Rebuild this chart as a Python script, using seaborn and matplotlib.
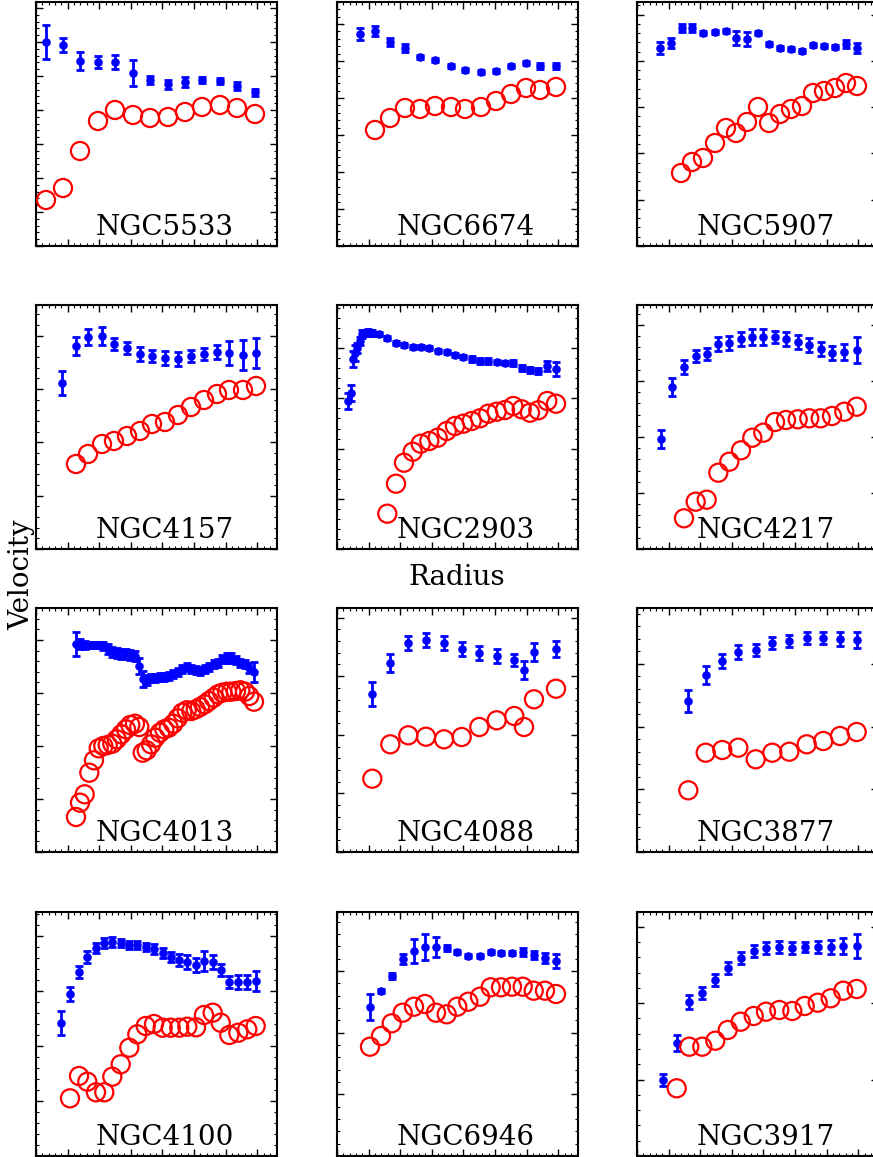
import matplotlib
matplotlib.use("Agg")
import matplotlib.pyplot as plt
from matplotlib.ticker import MultipleLocator, AutoMinorLocator
import seaborn as sns
import numpy as np

# ---------------- data (radius / velocity in arbitrary plot units) ----------------
names = ["NGC5533", "NGC6674", "NGC5907",
         "NGC4157", "NGC2903", "NGC4217",
         "NGC4013", "NGC4088", "NGC3877",
         "NGC4100", "NGC6946", "NGC3917"]

# NGC5533
r_5533 = [10, 27, 44, 62, 79, 97, 114, 132, 149, 166, 184, 201, 219]
vb_5533 = [204, 201, 185, 184, 184, 173, 166, 162, 164, 166, 165, 160, 154]
eb_5533 = [17, 7, 9, 6, 7, 13, 4, 4.5, 5, 3, 3, 4, 3.5]
rr_5533 = [10, 27, 44, 62, 79, 97, 114, 132, 149, 166, 184, 201, 219]
vr_5533 = [46, 58, 95, 125, 136, 131, 128, 129, 134, 139, 141, 138, 132]

# NGC6674
r_6674 = [23, 38, 53, 68, 83, 98, 114, 128, 144, 159, 174, 189, 203, 219]
vb_6674 = [212, 215, 204, 198, 189, 186, 180, 176, 174, 175, 180, 183, 180, 180]
eb_6674 = [6, 5, 4, 4, 2, 2, 2, 2, 2, 2, 2, 2, 3, 3]
rr_6674 = [38, 53, 68, 83, 98, 114, 128, 144, 159, 174, 189, 203, 219]
vr_6674 = [116, 128, 138, 137, 140, 139, 137, 139, 145, 152, 158, 156, 159]

# NGC5907
r_5907 = [23, 34, 45, 55, 66, 78, 89, 99, 110, 121, 132, 143, 154, 165, 176, 187, 198, 209, 220]
vb_5907 = [198, 203, 218, 218, 213, 214, 215, 208, 207, 213, 202, 198, 197, 195, 201, 200, 199, 202, 198]
eb_5907 = [6, 5, 4, 4, 2, 2, 2, 7, 7, 2, 2, 2, 2, 2, 2, 2, 2, 4, 5]
rr_5907 = [44, 55, 66, 78, 89, 99, 110, 121, 132, 143, 154, 165, 176, 187, 198, 209, 220]
vr_5907 = [73, 84, 88, 103, 118, 113, 124, 139, 123, 132, 137, 140, 153, 155, 158, 163, 160]

# NGC4157
r_4157 = [26, 40, 52, 66, 78, 91, 104, 116, 129, 142, 155, 168, 181, 193, 207, 220]
vb_4157 = [166, 203, 212, 213, 205, 201, 195, 193, 191, 190, 193, 195, 197, 196, 194, 196]
eb_4157 = [12, 9, 8, 9, 6, 6, 7, 6, 7, 7, 6, 6, 7, 12, 15, 15]
rr_4157 = [40, 52, 66, 78, 91, 104, 116, 129, 142, 155, 168, 181, 193, 207, 220]
vr_4157 = [85, 95, 105, 108, 113, 118, 125, 127, 134, 142, 149, 155, 159, 159, 163]

# NGC2903
r_2903 = [11.3, 13.7, 15.7, 18, 20.3, 23, 25.3, 28, 30.7, 33, 35.3, 42.3, 50.3, 59, 67, 75.7,
          83.7, 92.3, 100.7, 109.7, 118, 126.3, 134.7, 143, 151.3, 159.7, 168, 176.3, 184.7,
          193, 201.3, 210.3, 219]
vb_2903 = [148, 156.3, 189.7, 196.3, 201.3, 208, 215.3, 216.3, 217, 216.3, 216.3, 215.3, 210.7,
           206.3, 204, 202, 202, 200.7, 198, 197, 194, 192, 189.7, 188, 188, 187, 186.3, 185.7,
           181.3, 178.7, 178, 183, 179.7]
eb_2903 = [8, 8, 8, 8, 5, 4, 4, 3, 3, 3, 3, 2, 2, 2, 2, 2, 2, 2, 2, 2, 2, 2, 3, 3, 3, 2, 2, 3,
           3, 3, 3, 5, 7]
rr_2903 = [50.3, 59, 67, 75.7, 83.7, 92.3, 100.7, 109.7, 118, 126.3, 134.7, 143, 151.3, 159.7,
           168, 176.3, 184.7, 193, 201.3, 210.3, 219]
vr_2903 = [35.3, 65.3, 86.3, 97.3, 105.3, 108, 111.3, 118, 123, 125.3, 128, 130.7, 135.3, 137.3,
           139, 143, 139.7, 136.3, 138.7, 148, 145.3]

# NGC4217
r_4217 = [23.7, 35.3, 47, 58.7, 69.7, 81.3, 92.3, 104, 115.3, 126.3, 138, 149, 160.7, 172.3,
          183.7, 195, 207.3, 219.7]
vb_4217 = [109.7, 162.3, 182, 193, 194.7, 204.7, 205.7, 209.7, 212, 212.3, 212.3, 210.3, 207.3,
           203.7, 199.7, 196.3, 197, 198.7]
eb_4217 = [9, 9, 7, 6, 6, 7, 7, 7, 8, 8, 6, 7, 7, 7, 7, 7, 8, 13]
rr_4217 = [47, 58.7, 69.7, 81.3, 92.3, 104, 115.3, 126.3, 138, 149, 160.7, 172.3, 183.7, 195,
           207.3, 219.7]
vr_4217 = [30.7, 47.3, 49.3, 76.3, 87.3, 98.7, 111.3, 116.3, 127, 129, 129.7, 130.7, 130.7, 133,
           137.3, 142.3]

# NGC4013
r_4013 = [40, 44, 48.7, 53.3, 58, 62.7, 67.3, 71.7, 76.3, 80.7, 85.3, 90, 94.3, 99, 103.3, 106.7,
          110.7, 115, 119.3, 124, 128.3, 132.7, 137.3, 141.7, 146.3, 150.7, 155.3, 159.7, 164,
          168.7, 173, 177.7, 182, 186.3, 191, 195.3, 200, 204.3, 209, 213.3, 218]
vb_4013 = [208.3, 207.7, 206.7, 206.7, 206.7, 206.7, 206, 202.7, 200.3, 199.3, 198.3, 197.7, 197,
           196, 186, 172.7, 171.7, 173.7, 174.3, 175, 175, 176, 177.7, 180.3, 182.7, 185, 182.7,
           181.7, 181, 182.7, 185, 187.7, 189.3, 192.7, 194.3, 193.7, 191.7, 189.3, 187.7, 184.3,
           180.3]
eb_4013 = [12, 5, 4, 3, 3, 3, 4, 5, 5, 5, 5, 5, 5, 5, 8, 8, 5, 4, 4, 4, 4, 4, 4, 4, 4, 4, 4, 4,
           4, 4, 4, 4, 4, 4, 5, 5, 4, 4, 4, 5, 10]
rr_4013 = r_4013
vr_4013 = [35, 49.3, 57.7, 79.3, 91.7, 103.7, 106, 107, 108.3, 112.7, 117.7, 122.7, 127, 128.3,
           125, 99.3, 101.7, 107.7, 114.3, 119.3, 122.7, 124.3, 128.3, 133.7, 139.3, 141.7, 141,
           142.7, 145, 147.7, 151, 154.3, 157.7, 159.3, 160.3, 160.3, 161, 161.7, 160.3, 156, 150.3]

# NGC4088
r_4088 = [35.3, 53.3, 71.3, 89, 107, 124.7, 142.3, 159.7, 177.3, 187, 197, 219]
vb_4088 = [158.3, 188.7, 208.7, 212, 209.3, 202.7, 199.3, 196, 192, 182, 200, 203.3]
eb_4088 = [12, 9, 7, 7, 7, 7, 7, 7, 6, 9, 9, 8]
rr_4088 = r_4088
vr_4088 = [73.3, 107.7, 116.7, 115.3, 112.7, 115, 125, 131.7, 136, 125, 152.7, 163.3]

# NGC3877
r_3877 = [51.3, 68.7, 85.3, 101.3, 118.7, 135.3, 152.3, 169.7, 186.3, 203, 219.7]
vb_3877 = [151, 177, 191, 200, 201.7, 208.7, 211, 213.7, 213.7, 212.7, 211.7]
eb_3877 = [11, 9, 7, 7, 6, 6, 6, 6, 6, 7, 8]
rr_3877 = r_3877
vr_3877 = [61.7, 99.3, 102, 104.3, 92.7, 99.3, 100.3, 107.7, 111, 116, 120]

# NGC4100
r_4100 = [25, 34, 43, 51.3, 60, 68.3, 76.3, 84.7, 93.3, 101.3, 109.7, 118, 126.7, 134.7, 143.3,
          151.3, 160, 168, 176.7, 184.7, 193.3, 202.3, 211.3, 219.7]
vb_4100 = [132.7, 161.7, 184.3, 199.3, 207.7, 212.7, 214.3, 212.7, 211, 211, 209.3, 206.7, 202.7,
           199.3, 196, 194.3, 191, 195.3, 194.3, 186, 174.3, 174.3, 174.3, 175]
eb_4100 = [12, 7, 6, 6, 5, 5, 5, 4, 4, 4, 4, 5, 5, 5, 6, 7, 7, 10, 7, 6, 6, 7, 7, 10]
rr_4100 = [34, 43, 51.3, 60, 68.3, 76.3, 84.7, 93.3, 101.3, 109.7, 118, 126.7, 134.7, 143.3,
           151.3, 160, 168, 176.7, 184.7, 193.3, 202.3, 211.3, 219.7]
vr_4100 = [57.7, 80, 74.3, 63.7, 63.7, 79.3, 91.7, 108.3, 121.7, 130, 132, 128.3, 128.3, 128.3,
           129.3, 128.7, 141, 143.3, 133.3, 121, 123.3, 126.7, 130]

# NGC6946
r_6946 = [33, 44, 54.7, 65.7, 77, 88, 99, 109.7, 120.3, 131.3, 143, 153.7, 164, 175, 185.7,
          196.7, 208, 219]
vb_6946 = [149.3, 165.3, 180, 196.7, 205.3, 209.3, 209.3, 207.7, 203.7, 200.3, 200, 204.3, 202.7,
           202.7, 203.7, 201, 197.7, 195.3]
eb_6946 = [13, 2, 3, 5, 12, 13, 10, 3, 2, 2, 2, 2, 2, 2, 4, 4, 5, 7]
rr_6946 = r_6946
vr_6946 = [109.3, 120, 132.7, 143.3, 149.3, 152, 143.3, 141.7, 149.3, 154.3, 159.3, 168.7, 168.7,
           169.3, 169.3, 165.3, 165.3, 162]

# NGC3917
r_3917 = [26.3, 39.7, 52.3, 65.3, 78.3, 90.7, 103.7, 116.7, 129, 142.3, 155.3, 167.7, 180.7,
          193.7, 206.3, 219.7]
vb_3917 = [76, 112.7, 154.3, 163.3, 176, 187.7, 198.3, 205.3, 207.7, 209.3, 207.7, 209.3, 209.3,
           208.7, 210.3, 210]
eb_3917 = [6, 8, 7, 6, 6, 6, 6, 6, 6, 6, 6, 5, 6, 7, 8, 12]
rr_3917 = [39.7, 52.3, 65.3, 78.3, 90.7, 103.7, 116.7, 129, 142.3, 155.3, 167.7, 180.7, 193.7,
           206.3, 219.7]
vr_3917 = [67.7, 109.3, 109.3, 115.3, 126, 134.3, 140, 144.3, 146, 145, 150, 153.3, 157.7, 165.3,
           167]

# y-axis major tick spacing per panel
ymajor = [34, 37, 46.3, 53.3, 50.2, 56, 53, 58.6, 62.7, 55, 61.7, 76.4]
xmajor = [31.6] * 12

panels = [
    (r_5533, vb_5533, eb_5533, rr_5533, vr_5533),
    (r_6674, vb_6674, eb_6674, rr_6674, vr_6674),
    (r_5907, vb_5907, eb_5907, rr_5907, vr_5907),
    (r_4157, vb_4157, eb_4157, rr_4157, vr_4157),
    (r_2903, vb_2903, eb_2903, rr_2903, vr_2903),
    (r_4217, vb_4217, eb_4217, rr_4217, vr_4217),
    (r_4013, vb_4013, eb_4013, rr_4013, vr_4013),
    (r_4088, vb_4088, eb_4088, rr_4088, vr_4088),
    (r_3877, vb_3877, eb_3877, rr_3877, vr_3877),
    (r_4100, vb_4100, eb_4100, rr_4100, vr_4100),
    (r_6946, vb_6946, eb_6946, rr_6946, vr_6946),
    (r_3917, vb_3917, eb_3917, rr_3917, vr_3917),
]

# ---------------- figure ----------------
sns.set_theme(style="ticks")
plt.rcParams["font.family"] = ["DejaVu Serif"]
plt.rcParams["axes.linewidth"] = 1.5

W, H = 873, 1157
fig = plt.figure(figsize=(W / 100, H / 100), dpi=100)
fig.patch.set_facecolor("white")

col_left = [36, 337, 637]
row_top = [2, 305, 608, 912]
pw, ph = 241, 244

for i, (name, (r, vb, eb, rr, vr)) in enumerate(zip(names, panels)):
    row, col = divmod(i, 3)
    l = col_left[col]
    t = row_top[row]
    ax = fig.add_axes([l / W, 1 - (t + ph) / H, pw / W, ph / H])
    ax.set_facecolor("white")

    ax.errorbar(r, vb, yerr=eb, fmt="none", ecolor="blue", elinewidth=2.0,
                capsize=3, capthick=2.0, zorder=2)
    sns.scatterplot(x=r, y=vb, ax=ax, color="blue", s=38, linewidth=0, zorder=3)
    sns.scatterplot(x=rr, y=vr, ax=ax, marker="o", s=170, linewidth=1.6, zorder=4)
    coll = ax.collections[-1]
    coll.set_facecolor("none")
    coll.set_edgecolor("red")

    ax.set_xlim(0, pw)
    ax.set_ylim(0, ph)
    ax.xaxis.set_major_locator(MultipleLocator(xmajor[i]))
    ax.xaxis.set_minor_locator(AutoMinorLocator(5))
    ax.yaxis.set_major_locator(MultipleLocator(ymajor[i]))
    ax.yaxis.set_minor_locator(AutoMinorLocator(5))
    ax.tick_params(which="both", direction="in", top=True, right=True,
                   labelbottom=False, labelleft=False, color="black")
    ax.tick_params(which="major", length=5, width=1.0)
    ax.tick_params(which="minor", length=2.5, width=0.8)
    for s in ax.spines.values():
        s.set_color("black")
        s.set_linewidth(1.5)
    ax.set_xlabel("")
    ax.set_ylabel("")
    ax.text(0.533, 0.045, name, transform=ax.transAxes, ha="center",
            va="baseline", fontsize=20, color="black", zorder=5)

fig.text(22 / W, 1 - 575 / H, "Velocity", rotation=90, ha="center", va="center",
         fontsize=20, color="black")
fig.text(457 / W, 1 - 578 / H, "Radius", ha="center", va="center",
         fontsize=20, color="black")

fig.savefig("out.png", dpi=100, facecolor="white")
